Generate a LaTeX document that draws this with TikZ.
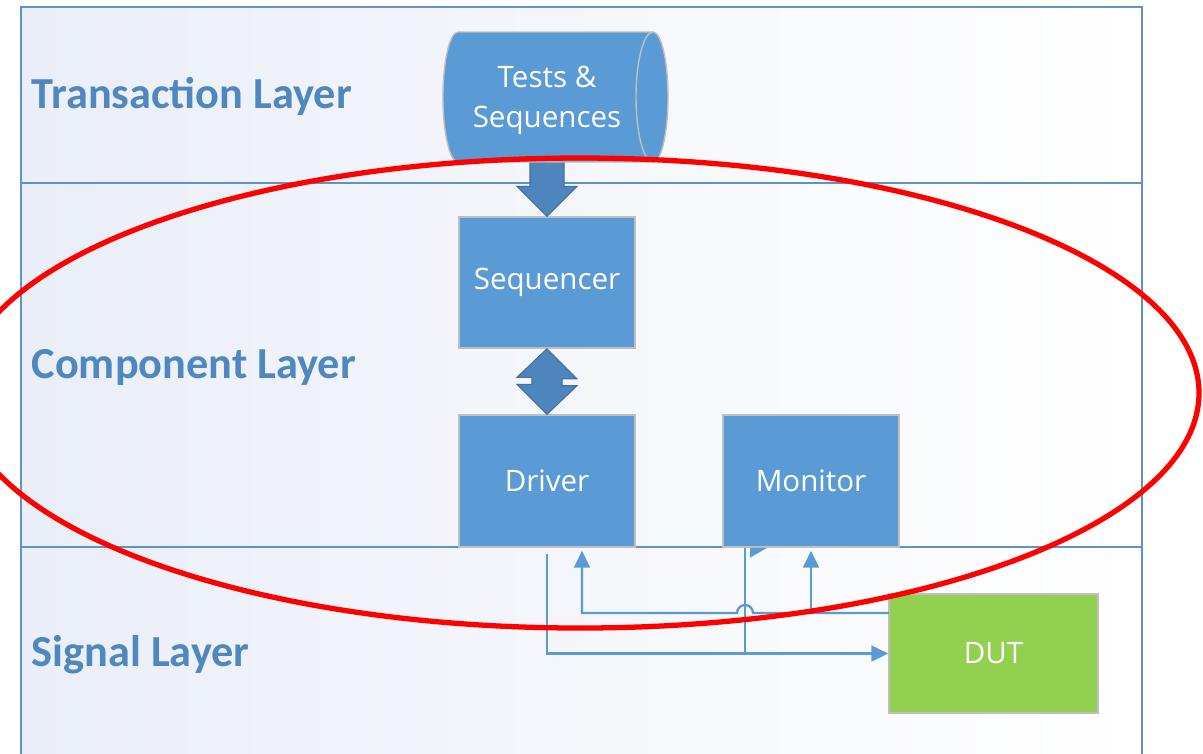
\documentclass[tikz,border=0pt]{standalone}
\usepackage{fontspec}
\setmainfont{Carlito}
\newfontfamily\boxfont{Open Sans}
\usetikzlibrary{arrows.meta,calc}
\definecolor{boxfill}{HTML}{5B9BD5}
\definecolor{boxedge}{HTML}{BFBFBF}
\definecolor{bigarr}{HTML}{4E85BC}
\definecolor{bigarredge}{HTML}{41719C}
\definecolor{dutfill}{HTML}{92D050}
\definecolor{layertext}{HTML}{4E88BE}
\definecolor{layerline}{HTML}{5E93C9}
\definecolor{bandtint}{HTML}{EAEEF7}
\definecolor{wirec}{HTML}{5B9BD5}
\tikzset{
  comp/.style={draw=boxedge,line width=0.4pt,fill=boxfill,text=white,
    font=\boxfont\fontsize{8.4}{11.3}\selectfont,
    minimum width=1.76cm,minimum height=1.31cm,inner sep=0pt},
  dutbox/.style={comp,fill=dutfill,minimum width=2.09cm,minimum height=1.19cm},
  layerlbl/.style={anchor=base west,text=layertext,inner sep=0pt,
    font=\fontsize{12.6}{14}\selectfont\bfseries},
  wire/.style={draw=wirec,line width=0.65pt},
  arrowed/.style={-{Triangle[length=4.8pt,width=4.5pt]}},
  blockarr/.style={fill=bigarr,draw=bigarredge,line width=0.3pt},
  ring/.style={draw=red,line width=1.5pt},
}
% one shaded layer strip, top and bottom edge in px
\newcommand{\band}[2]{%
  \shade[left color=bandtint,right color=white] (21,#1) rectangle (1142,#2);
}

\begin{document}
\begin{tikzpicture}[x=0.01cm,y=-0.01cm]
\useasboundingbox (0,0) rectangle (1203,753);
\band{7}{183} \band{183}{547} \band{547}{760}
\draw[layerline,line width=0.8pt] (21,760) -- (21,7) -- (1142,7) -- (1142,760);
\draw[layerline,line width=0.8pt] (21,183) -- (1142,183) (21,547) -- (1142,547);

\node[layerlbl] (lblT) at (31,108) {Transaction Layer};
\node[layerlbl] (lblC) at (31,378) {Component Layer};
\node[layerlbl] (lblS) at (31,666) {Signal Layer};

% blocks
\node[comp] (seq) at (547,282.5) {Sequencer};
\node[comp,minimum height=1.32cm] (drv) at (547,481) {Driver};
\node[comp,minimum height=1.32cm] (mon) at (811,481) {Monitor};
\node[dutbox] (dut) at (993.5,653.5) {DUT};

% signal wiring
\coordinate (tap) at (745,653.5);
\coordinate (fb) at (889,613);
\draw[wire,arrowed] ($(drv.south)+(0,6)$) |- (dut.west);
\draw[wire] (tap) -- (tap |- mon.south);
\fill[wirec] ($(tap |- mon.south)+(5,0)$) -- ++(0,10) -- ++(17,-10) -- cycle;
\draw[wire,arrowed] (fb) -- ++(-136,0) arc[start angle=0,end angle=-180,radius=8]
  -- ++(-155,0) -- ($(drv.south)+(35,3)$);
\draw[wire,arrowed] (mon.south |- fb) -- ($(mon.south)+(0,3)$);

% sequence source
\node[comp,draw=none,fill=none,align=center,minimum height=1.3cm] (tests) at (547,100) {};
\draw[blockarr] ($(tests.south)+(-17,-5)$) -- ($(seq.north)+(-17,-30)$)
  -- ($(seq.north)+(-30,-30)$) -- (seq.north) -- ($(seq.north)+(30,-30)$)
  -- ($(seq.north)+(17,-30)$) -- ($(tests.south)+(17,-5)$) -- cycle;
\filldraw[fill=boxfill,draw=boxedge,line width=0.4pt] (458,32) -- (653,32)
  arc[start angle=-90,end angle=90,x radius=15,y radius=65] -- (458,162)
  arc[start angle=90,end angle=270,x radius=15,y radius=65] -- cycle;
\draw[boxedge,line width=0.4pt] (653,32) arc[start angle=-90,end angle=-270,x radius=17,y radius=65];
\node[comp,draw=none,fill=none,align=center] at (tests) {Tests \&\\Sequences};

% sequencer <-> driver
\draw[blockarr] (seq.south) -- ++(30,30) -- ++(-15,0) -- ++(0,7) -- ++(15,0)
  -- (drv.north) -- ++(-30,-30) -- ++(15,0) -- ++(0,-7) -- ++(-15,0) -- cycle;

\draw[ring] (580,393) ellipse [x radius=619, y radius=235];
\end{tikzpicture}
\end{document}
